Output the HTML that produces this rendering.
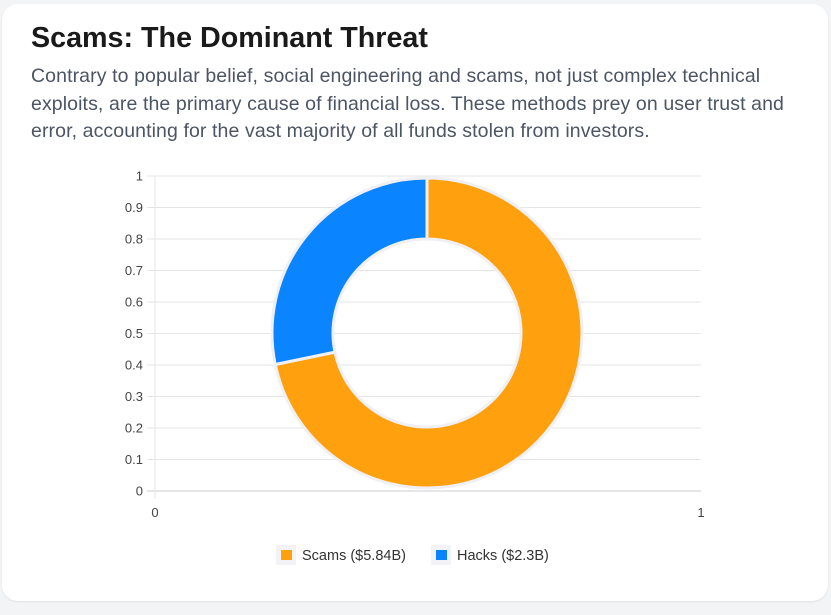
<!DOCTYPE html>
<html><head><meta charset="utf-8"><style>
html,body{margin:0;padding:0;background:#f3f4f6;width:831px;height:615px;overflow:hidden;font-family:"Liberation Sans",sans-serif}
.card{position:absolute;left:2px;top:4px;width:826px;height:597px;background:#fff;border-radius:16px;box-shadow:0 1px 2px rgba(0,0,0,.08)}
h1{position:absolute;left:29px;top:18px;margin:0;font-size:28.7px;font-weight:bold;color:#1a1a1a}
p{position:absolute;left:29px;top:59px;width:790px;margin:0;font-size:19.5px;line-height:27.5px;color:#4b5563;letter-spacing:0.1px}
svg{position:absolute;left:0;top:0}
</style></head><body>
<div class="card">
<h1>Scams: The Dominant Threat</h1>
<p>Contrary to popular belief, social engineering and scams, not just complex technical exploits, are the primary cause of financial loss. These methods prey on user trust and error, accounting for the vast majority of all funds stolen from investors.</p>
</div>
<svg id="chart" width="831" height="615"></svg>
<script>
const labels=["Scams ($5.84B)","Hacks ($2.3B)"];
const values=[5.84,2.3];
const colors=["#FFA00F","#0A84FF"];
const yTicks=[0,0.1,0.2,0.3,0.4,0.5,0.6,0.7,0.8,0.9,1];
const xTicks=[0,1];
const NS="http://www.w3.org/2000/svg";
const svg=document.getElementById('chart');
const X0=155,X1=701,Y0=491,Y1=176;
const ys=v=>Y0-(Y0-Y1)*v, xs=v=>X0+(X1-X0)*v;
function mk(t,a,p){const e=document.createElementNS(NS,t);for(const k in a)e.setAttribute(k,a[k]);(p||svg).appendChild(e);return e;}
yTicks.forEach(v=>{
 const g=mk('line',{x1:147,x2:X1,y1:ys(v),y2:ys(v),stroke:v===0?'#ccc':'#e5e5e5','stroke-width':1});
 
 
 const t=mk('text',{x:143,y:ys(v)+4.5,'text-anchor':'end','font-size':13,fill:'#444'});
 t.textContent=String(v);
 
 
});
const ax=mk('line',{x1:X0,x2:X0,y1:Y1,y2:Y0+8,stroke:'#e5e5e5'});


xTicks.forEach(v=>{
 const t=mk('text',{x:xs(v),y:517,'text-anchor':'middle','font-size':13,fill:'#444'});
 t.textContent=String(v);
 
 
});
const cx=427,cy=333,R=155,r=94;
const total=values.reduce((a,b)=>a+b,0);
let a0=-Math.PI/2;
values.forEach((v,i)=>{
 const a1=a0+v/total*2*Math.PI;
 const big=(a1-a0)>Math.PI?1:0;
 const p=(rad,a)=>[cx+rad*Math.cos(a),cy+rad*Math.sin(a)];
 const [x1,y1]=p(R,a0),[x2,y2]=p(R,a1),[x3,y3]=p(r,a1),[x4,y4]=p(r,a0);
 const d=`M${x1},${y1}A${R},${R} 0 ${big} 1 ${x2},${y2}L${x3},${y3}A${r},${r} 0 ${big} 0 ${x4},${y4}Z`;
 const s=mk('path',{d,fill:colors[i],stroke:'#f0f0f4','stroke-width':3});
 
 
 a0=a1;
});
let lx=[280,435];
labels.forEach((l,i)=>{
 const g=mk('g',{});
 
 
 mk('rect',{x:lx[i]-4,y:545,width:20,height:20,fill:'#f3f3f7'},g);
 mk('rect',{x:lx[i]+1,y:550,width:11,height:10,fill:colors[i]},g);
 const t=mk('text',{x:lx[i]+22,y:560,'font-size':14.5,fill:'#333'},g);
 t.textContent=l;
});
</script>
</body></html>
